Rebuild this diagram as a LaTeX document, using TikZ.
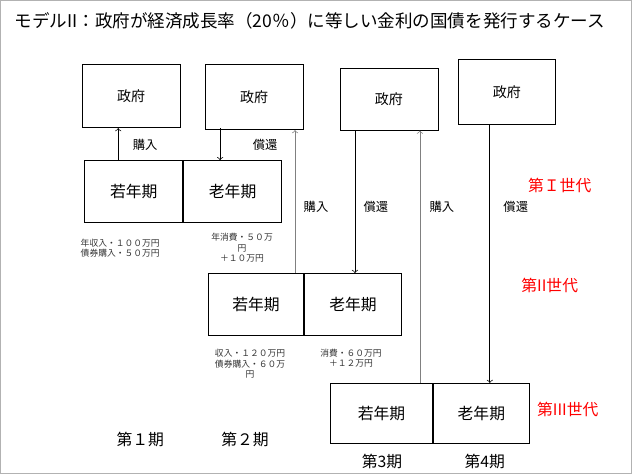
\documentclass[tikz,border=0pt]{standalone}
\usepackage{fontspec}
\setmainfont{Noto Sans CJK JP}
\usetikzlibrary{positioning}
\begin{document}
\begin{tikzpicture}[x=0.02cm, y=-0.02cm, every node/.style={font=\footnotesize},
  box/.style={draw, semithick, rectangle, minimum width=1.96cm, minimum height=1.24cm, anchor=north west},
  note/.style={font=\tiny, align=center, text=black!80},
  gen/.style={text=red, font=\small}]
    \draw[gray!60] (0,0) rectangle (632,474);
    \node[anchor=west, font=\normalsize] (title) at (8,20) {モデルII：政府が経済成長率（20％）に等しい金利の国債を発行するケース};

    % Government nodes
    \node[draw, minimum width=1.96cm, minimum height=1.26cm] (gov1) at (131,96) {政府};
    \node[draw, minimum width=1.96cm, minimum height=1.3cm] (gov2) at (254,97) {政府};
    \node[draw, minimum width=1.96cm, minimum height=1.24cm] (gov3) at (389,99) {政府};
    \node[draw, minimum width=1.94cm, minimum height=1.3cm] (gov4) at (507,92) {政府};

    % Generation nodes
    \node[box] (young1) at (84,160) {\small 若年期};
    \node[box] (old1) at (young1.north east) {\small 老年期};
    \node[box, minimum width=1.9cm] (young2) at (208,273) {\small 若年期};
    \node[box, minimum width=1.94cm] (old2) at (young2.north east) {\small 老年期};
    \node[box, minimum width=2.04cm, minimum height=1.2cm] (young3) at (330,383) {\small 若年期};
    \node[box, minimum width=1.92cm, minimum height=1.2cm] (old3) at (young3.north east) {\small 老年期};

    % Edges
    \draw[->] (young1.north -| 118,0) -- (gov1.south -| 118,0);
    \draw[->] (gov1.south -| 220,0) -- (young1.north -| 220,0);
    \draw[->, gray] (young2.north -| 295,0) -- (gov2.south -| 295,0);
    \draw[->] (gov3.south -| 355,0) -- (old2.north -| 355,0);
    \draw[->, gray] (young3.north -| 420,0) -- (gov3.south -| 420,0);
    \draw[->] (gov4.south -| 490,0) -- (old3.north -| 490,0);

    % Edge labels
    \node[font=\scriptsize] (l1) at (145,145) {購入};
    \node[font=\scriptsize] (l2) at (265,145) {償還};
    \node[font=\scriptsize] (l3) at (316,207) {購入};
    \node[font=\scriptsize] (l4) at (376,207) {償還};
    \node[font=\scriptsize] (l5) at (442,207) {購入};
    \node[font=\scriptsize] (l6) at (516,207) {償還};

    % Notes
    \node[note, align=left] (n1) at (120,248) {年収入・１００万円\\債券購入・５０万円};
    \node[note] (n2) at (242,248) {年消費・５０万\\円\\＋１０万円};
    \node[note] (n3) at (250,364) {収入・１２０万円\\債券購入・６０万\\円};
    \node[note] (n4) at (351,358) {消費・６０万円\\＋１２万円};

    % Generations
    \node[gen] (g1) at (560,185) {第Ｉ世代};
    \node[gen] (g2) at (550,285) {第II世代};
    \node[gen] (g3) at (568,410) {第III世代};

    % Periods
    \node[font=\small] (p1) at (140,440) {第１期};
    \node[font=\small] (p2) at (245,440) {第２期};
    \node[font=\small] (p3) at (382,462) {第3期};
    \node[font=\small] (p4) at (485,462) {第4期};
\end{tikzpicture}
\end{document}
